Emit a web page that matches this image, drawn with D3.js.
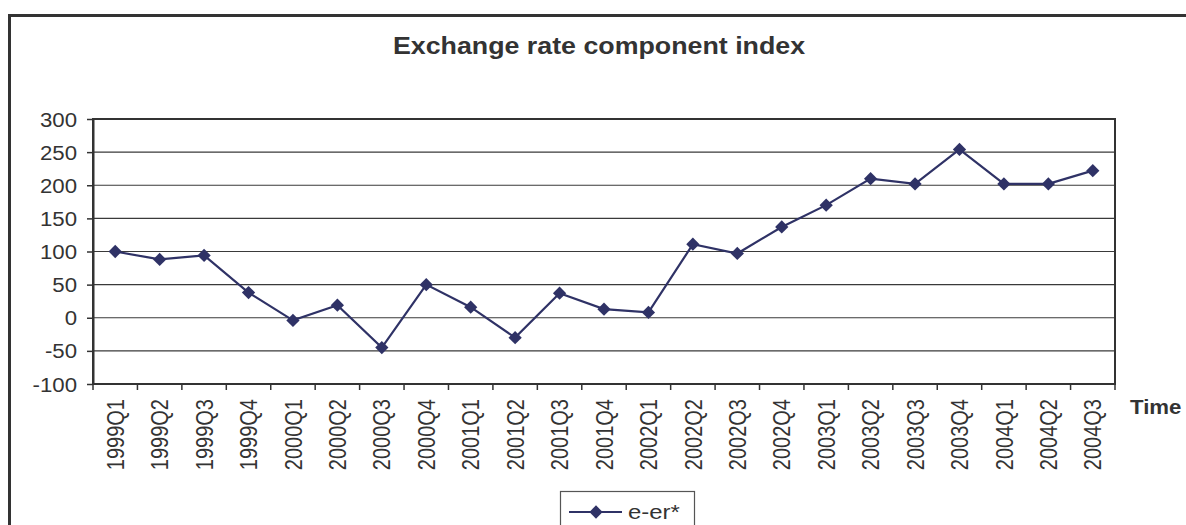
<!DOCTYPE html>
<html>
<head>
<meta charset="utf-8">
<script src="https://cdn.jsdelivr.net/npm/d3@7"></script>
<style>
  html, body { margin: 0; padding: 0; background: #fff; }
  svg { display: block; }
  text { font-family: "Liberation Sans", Arial, sans-serif; fill: #333; }
</style>
</head>
<body>
<svg id="chart" width="1186" height="525"></svg>
<script>
// Quarterly periods on the category axis
const categories = [
  "1999Q1", "1999Q2", "1999Q3", "1999Q4",
  "2000Q1", "2000Q2", "2000Q3", "2000Q4",
  "2001Q1", "2001Q2", "2001Q3", "2001Q4",
  "2002Q1", "2002Q2", "2002Q3", "2002Q4",
  "2003Q1", "2003Q2", "2003Q3", "2003Q4",
  "2004Q1", "2004Q2", "2004Q3"
];
// e-er* series
const values = [
  100, 88, 94, 38,
  -4, 19, -45, 50,
  16, -30, 37, 13,
  8, 111, 97, 137,
  170, 210, 202, 254,
  202, 202, 222
];
const yTicks = [-100, -50, 0, 50, 100, 150, 200, 250, 300];
const seriesName = "e-er*";
const chartTitle = "Exchange rate component index";
const xTitle = "Time";

const svg = d3.select("#chart");
const SX = 1.14;               // horizontal widening of the lettering
const ink = "#333";
const lineColor = "#2f3266";

const plotLeft = 93, plotRight = 1115, plotTop = 119, plotBottom = 384;
const x = d3.scaleBand().domain(categories).range([plotLeft, plotRight]);
const y = d3.scaleLinear().domain([-100, 300]).range([plotBottom, plotTop]);

// Outer frame
svg.append("rect")
  .attr("x", 9.5).attr("y", 15.5)
  .attr("width", 1300).attr("height", 600)
  .attr("fill", "none").attr("stroke", ink).attr("stroke-width", 3);

// Title
svg.append("text")
  .attr("transform", `translate(599,54) scale(${SX},1)`)
  .attr("text-anchor", "middle")
  .attr("font-weight", "bold")
  .attr("font-size", 23.5)
  .text(chartTitle);

// Horizontal gridlines
svg.append("g").selectAll("line")
  .data(yTicks)
  .join("line")
  .attr("x1", plotLeft).attr("x2", plotRight)
  .attr("y1", d => y(d)).attr("y2", d => y(d))
  .attr("stroke", "#3a3a3a").attr("stroke-width", 1.2);

// Plot area border
svg.append("rect")
  .attr("x", plotLeft).attr("y", plotTop)
  .attr("width", plotRight - plotLeft).attr("height", plotBottom - plotTop)
  .attr("fill", "none").attr("stroke", ink).attr("stroke-width", 2);

// Y axis ticks and labels (plain hyphen for negatives)
const yAxis = svg.append("g")
  .attr("transform", `translate(${plotLeft},0)`)
  .call(d3.axisLeft(y).tickValues(yTicks).tickSize(6).tickSizeOuter(0).tickFormat(d => String(d)));
yAxis.select(".domain").attr("stroke", ink).attr("stroke-width", 2);
yAxis.selectAll(".tick line").attr("stroke", ink).attr("stroke-width", 1.5);
yAxis.selectAll(".tick text")
  .attr("x", -16 / SX)
  .attr("dy", "0.36em")
  .attr("transform", `scale(${SX},1)`)
  .attr("font-size", 19.5)
  .attr("font-family", "Liberation Sans, Arial, sans-serif")
  .attr("fill", ink);

// X axis: tick marks at category boundaries
const bounds = categories.map(c => x(c)).concat([plotRight]);
svg.append("g").selectAll("line")
  .data(bounds)
  .join("line")
  .attr("x1", d => d).attr("x2", d => d)
  .attr("y1", plotBottom).attr("y2", plotBottom + 6)
  .attr("stroke", ink).attr("stroke-width", 1.5);

// X labels, rotated to read upward
svg.append("g").selectAll("text")
  .data(categories)
  .join("text")
  .attr("transform", d => `translate(${x(d) + x.bandwidth() / 2},399) scale(1.2,1) rotate(-90)`)
  .attr("text-anchor", "end")
  .attr("dy", "0.36em")
  .attr("font-size", 20)
  .text(d => d);

// X axis title
svg.append("text")
  .attr("transform", `translate(1130,414) scale(${SX},1)`)
  .attr("font-weight", "bold")
  .attr("font-size", 19.5)
  .text(xTitle);

// Series line
const pts = categories.map((c, i) => [x(c) + x.bandwidth() / 2, y(values[i])]);
svg.append("path")
  .attr("d", d3.line()(pts))
  .attr("fill", "none")
  .attr("stroke", lineColor)
  .attr("stroke-width", 2.2);

// Diamond markers
const diamond = d3.symbol().type(d3.symbolSquare).size(88);
svg.append("g").selectAll("path")
  .data(pts)
  .join("path")
  .attr("d", diamond)
  .attr("transform", d => `translate(${d[0]},${d[1]}) rotate(45)`)
  .attr("fill", lineColor);

// Legend
const lg = svg.append("g");
lg.append("rect")
  .attr("x", 560.5).attr("y", 491.5)
  .attr("width", 134).attr("height", 60)
  .attr("fill", "#fff").attr("stroke", "#555").attr("stroke-width", 1.2);
lg.append("line")
  .attr("x1", 569).attr("x2", 622).attr("y1", 512).attr("y2", 512)
  .attr("stroke", lineColor).attr("stroke-width", 2.2);
lg.append("path")
  .attr("d", diamond)
  .attr("transform", "translate(596,512) rotate(45)")
  .attr("fill", lineColor);
lg.append("text")
  .attr("transform", `translate(628,519) scale(${SX},1)`)
  .attr("font-size", 21)
  .text(seriesName);
</script>
</body>
</html>
